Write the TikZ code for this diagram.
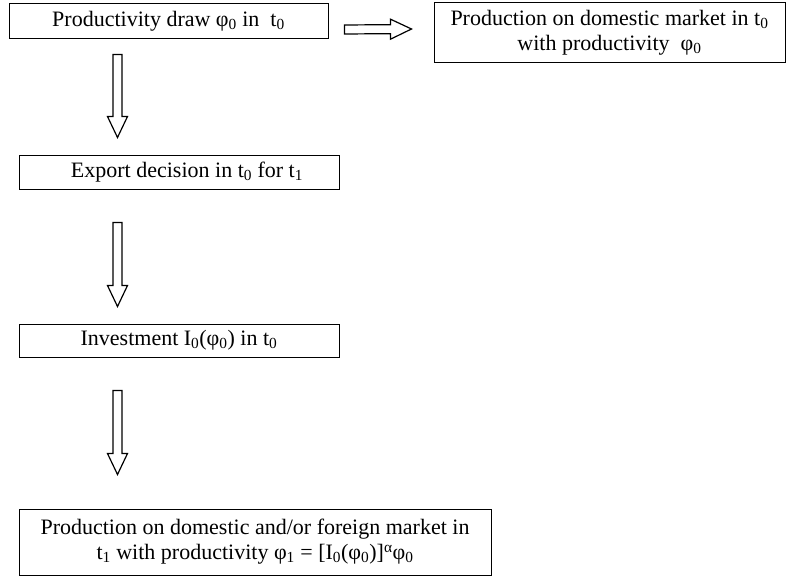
\documentclass[tikz,border=0pt]{standalone}
\usepackage{fontspec}
\setmainfont{Liberation Serif}
\usetikzlibrary{calc}
\newcommand{\lo}[1]{\textsubscript{#1}}
\tikzset{
  stage/.style={draw, line width=1pt, align=center, inner sep=0pt,
    font=\fontsize{22pt}{25pt}\selectfont},
  fat/.style={line width=1.2pt, line join=miter, to path={
    ($(\tikztostart)!4.5pt!90:(\tikztotarget)$)
    -- ($($(\tikztotarget)!21pt!(\tikztostart)$)!4.5pt!-90:(\tikztostart)$)
    -- ($($(\tikztotarget)!21pt!(\tikztostart)$)!10pt!-90:(\tikztostart)$)
    -- (\tikztotarget)
    -- ($($(\tikztotarget)!21pt!(\tikztostart)$)!10pt!90:(\tikztostart)$)
    -- ($($(\tikztotarget)!21pt!(\tikztostart)$)!4.5pt!90:(\tikztostart)$)
    -- ($(\tikztostart)!4.5pt!-90:(\tikztotarget)$) -- cycle}}
}
\begin{document}
\begin{tikzpicture}[x=1pt,y=1pt]
\useasboundingbox (0,0) rectangle (787,-578);
% Kästchen
\node[stage, minimum width=319pt, minimum height=35pt] (draw) at (168.5,-21.5)
  {Productivity draw φ\lo{0} in~ t\lo{0}};
\node[stage, minimum width=351pt, minimum height=60pt] (domestic) at (609.5,-33)
  {Production on domestic market in t\lo{0}\\ with productivity~ φ\lo{0}};
\node[stage, minimum width=320pt, minimum height=34pt] (export) at (179,-172)
  {\hspace{16pt}Export decision in t\lo{0} for t\lo{1}};
\node[stage, minimum width=320pt, minimum height=33pt] (invest) at (179,-340.5)
  {Investment I\lo{0}(φ\lo{0}) in t\lo{0}};
\node[stage, minimum width=472pt, minimum height=66pt] (foreign) at (255,-542)
  {Production on domestic and/or foreign market in\\
   t\lo{1} with productivity φ\lo{1} = [I\lo{0}(φ\lo{0})]\textsuperscript{α}φ\lo{0}};
% Pfeile
\draw[fat] ([shift={(16pt,-8pt)}]draw.east) to ([shift={(-22pt,4pt)}]domestic.west);
\draw[fat] ([shift={(109pt,-15pt)}]draw.south west) to ([shift={(99pt,17pt)}]export.north west);
\draw[fat] ([shift={(99pt,-33pt)}]export.south west) to ([shift={(99pt,17pt)}]invest.north west);
\draw[fat] ([shift={(99pt,-33pt)}]invest.south west) to ([shift={(99pt,34pt)}]foreign.north west);
\end{tikzpicture}
\end{document}
